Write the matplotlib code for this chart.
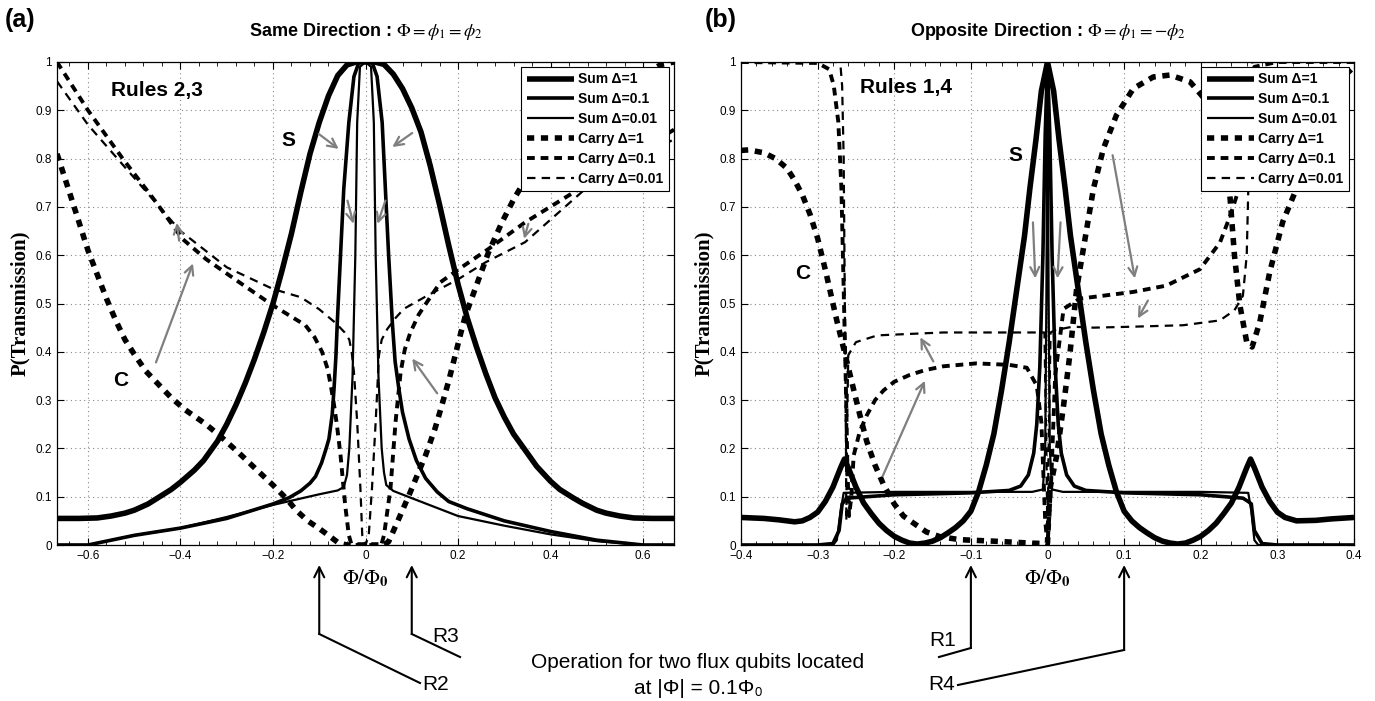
import numpy as np
import matplotlib
matplotlib.use("Agg")
import matplotlib.pyplot as plt
from matplotlib import transforms

plt.rcParams['font.family'] = ['Liberation Sans', 'DejaVu Sans']
plt.rcParams['mathtext.fontset'] = 'stix'

##############################################################################
# Panel (a) : same direction
##############################################################################

a_sum1_x = [-0.667, -0.62, -0.58, -0.55, -0.52, -0.5, -0.47, -0.45, -0.42, -0.4, -0.37, -0.35,
            -0.32, -0.3, -0.28, -0.26, -0.24, -0.22, -0.2, -0.18, -0.16, -0.14, -0.12, -0.1,
            -0.08, -0.06, -0.04, -0.02, 0, 0.02, 0.04, 0.06, 0.08, 0.1, 0.12, 0.14, 0.16, 0.18,
            0.2, 0.22, 0.24, 0.26, 0.28, 0.3, 0.32, 0.35, 0.37, 0.4, 0.42, 0.45, 0.47, 0.5, 0.52,
            0.55, 0.58, 0.62, 0.667]
a_sum1_y = [0.055, 0.055, 0.056, 0.06, 0.066, 0.072, 0.085, 0.097, 0.115, 0.13, 0.155, 0.175,
            0.215, 0.25, 0.29, 0.335, 0.385, 0.44, 0.5, 0.57, 0.645, 0.73, 0.81, 0.875,
            0.93, 0.972, 0.994, 1.0, 1.0, 1.0, 0.995, 0.975, 0.945, 0.905, 0.855, 0.785, 0.705, 0.62,
            0.54, 0.47, 0.41, 0.355, 0.305, 0.265, 0.23, 0.19, 0.163, 0.132, 0.115, 0.097, 0.086,
            0.072, 0.066, 0.06, 0.056, 0.055, 0.055]

a_sum2_x = [-0.667, -0.6, -0.5, -0.4, -0.3, -0.25, -0.2, -0.165, -0.14, -0.12, -0.108, -0.095,
            -0.085, -0.079, -0.072, -0.068, -0.064, -0.061, -0.054, -0.047, -0.036, -0.025,
            -0.014, 0, 0.014, 0.025, 0.036, 0.043, 0.05, 0.058, 0.064, 0.072, 0.08, 0.094, 0.11,
            0.13, 0.155, 0.18, 0.22, 0.3, 0.4, 0.5, 0.6, 0.667]
a_sum2_y = [0, 0, 0.02, 0.035, 0.055, 0.07, 0.085, 0.098, 0.112, 0.128, 0.142, 0.17,
            0.2, 0.22, 0.27, 0.324, 0.39, 0.461, 0.6, 0.737, 0.875, 0.97,
            1.0, 1.0, 1.0, 0.97, 0.875, 0.737, 0.6, 0.461, 0.38, 0.324, 0.275, 0.22, 0.175,
            0.138, 0.11, 0.09, 0.075, 0.05, 0.028, 0.01, 0, 0]

a_sum3_x = [-0.667, -0.6, -0.5, -0.4, -0.3, -0.2, -0.1, -0.06, -0.047, -0.04, -0.035, -0.028,
            -0.022, -0.018, -0.012, 0, 0.012, 0.018, 0.022, 0.028, 0.035, 0.04, 0.045, 0.06, 0.1,
            0.2, 0.3, 0.4, 0.5, 0.6, 0.667]
a_sum3_y = [0, 0, 0.02, 0.035, 0.058, 0.083, 0.105, 0.113, 0.12, 0.145, 0.2, 0.35,
            0.6, 0.875, 0.99, 1.0, 0.99, 0.875, 0.6, 0.35, 0.2, 0.15, 0.124, 0.112, 0.097,
            0.06, 0.04, 0.022, 0.008, 0, 0]

a_car1_x = [-0.667, -0.64, -0.62, -0.6, -0.58, -0.56, -0.54, -0.52, -0.5, -0.475, -0.45, -0.42,
            -0.39, -0.345, -0.31, -0.273, -0.24, -0.2, -0.17, -0.15, -0.125, -0.1, -0.08, -0.058,
            -0.04, 0, 0.04, 0.05, 0.07, 0.094, 0.11, 0.13, 0.15, 0.165, 0.18, 0.194, 0.205,
            0.216, 0.237, 0.266, 0.295, 0.32, 0.338, 0.4, 0.45, 0.5, 0.55, 0.6, 0.64, 0.667]
a_car1_y = [0.81, 0.73, 0.67, 0.61, 0.56, 0.51, 0.465, 0.425, 0.395, 0.36, 0.335, 0.305,
            0.28, 0.25, 0.222, 0.19, 0.16, 0.124, 0.095, 0.072, 0.05, 0.034, 0.02, 0.004,
            0, 0, 0, 0.007, 0.05, 0.103, 0.14, 0.186, 0.24, 0.289, 0.34, 0.393, 0.435,
            0.475, 0.53, 0.606, 0.668, 0.715, 0.744, 0.83, 0.88, 0.92, 0.95, 0.975, 0.995, 1.0]

a_car2_x = [-0.667, -0.6, -0.525, -0.453, -0.396, -0.345, -0.273, -0.2, -0.13, -0.11, -0.094,
            -0.082, -0.075, -0.068, -0.062, -0.054, -0.044, -0.036, -0.03, 0, 0.034, 0.04, 0.054,
            0.065, 0.076, 0.085, 0.097, 0.115, 0.133, 0.162, 0.2, 0.266, 0.345, 0.45, 0.55, 0.667]
a_car2_y = [1.0, 0.9, 0.8, 0.71, 0.634, 0.592, 0.544, 0.496, 0.455, 0.43, 0.40,
            0.365, 0.33, 0.29, 0.25, 0.186, 0.083, 0.02, 0, 0, 0, 0.02, 0.117,
            0.255, 0.358, 0.405, 0.44, 0.477, 0.503, 0.544, 0.57, 0.613, 0.668, 0.73, 0.79, 0.86]

a_car3_x = [-0.667, -0.6, -0.5, -0.4, -0.3, -0.2, -0.14, -0.1, -0.065, -0.045, -0.035, -0.03,
            -0.025, -0.018, -0.011, -0.007, 0, 0.007, 0.014, 0.022, 0.029, 0.035, 0.047, 0.065,
            0.083, 0.133, 0.2, 0.259, 0.345, 0.475, 0.55, 0.667]
a_car3_y = [0.96, 0.87, 0.76, 0.65, 0.575, 0.53, 0.513, 0.488, 0.46, 0.44, 0.425, 0.4,
            0.358, 0.255, 0.117, 0.02, 0, 0.02, 0.117, 0.255, 0.392, 0.425, 0.447, 0.47,
            0.489, 0.516, 0.55, 0.585, 0.627, 0.737, 0.78, 0.84]

##############################################################################
# Panel (b) : opposite direction
##############################################################################

b_sum1_x = [-0.4, -0.37, -0.35, -0.33, -0.32, -0.31, -0.3, -0.29, -0.28, -0.27, -0.265, -0.26,
            -0.255, -0.25, -0.24, -0.23, -0.22, -0.21, -0.2, -0.19, -0.18, -0.17, -0.16, -0.15,
            -0.14, -0.13, -0.12, -0.11, -0.1, -0.09, -0.08, -0.07, -0.06, -0.05, -0.04, -0.03,
            -0.023, -0.015, -0.008, 0, 0.008, 0.015, 0.023, 0.03, 0.04, 0.05, 0.06, 0.07, 0.08,
            0.09, 0.1, 0.11, 0.12, 0.13, 0.14, 0.15, 0.16, 0.17, 0.18, 0.19, 0.2, 0.21, 0.22,
            0.23, 0.24, 0.25, 0.255, 0.26, 0.265, 0.27, 0.28, 0.29, 0.3, 0.31, 0.325, 0.35,
            0.37, 0.4]
b_sum1_y = [0.057, 0.055, 0.052, 0.048, 0.05, 0.057, 0.068, 0.09, 0.12, 0.16, 0.178, 0.16,
            0.14, 0.12, 0.087, 0.065, 0.045, 0.03, 0.018, 0.01, 0.004, 0.002, 0.004, 0.008,
            0.015, 0.025, 0.036, 0.05, 0.07, 0.11, 0.165, 0.23, 0.32, 0.42, 0.53, 0.64,
            0.738, 0.84, 0.94, 1.0, 0.94, 0.84, 0.738, 0.64, 0.53, 0.42, 0.32, 0.23, 0.165,
            0.11, 0.07, 0.05, 0.036, 0.025, 0.015, 0.008, 0.004, 0.002, 0.004, 0.01, 0.018,
            0.03, 0.045, 0.065, 0.087, 0.12, 0.14, 0.16, 0.178, 0.16, 0.12, 0.09, 0.068, 0.057,
            0.05, 0.051, 0.054, 0.057]

b_sum2_x = [-0.4, -0.3, -0.28, -0.272, -0.268, -0.262, -0.2, -0.1, -0.05, -0.035, -0.025,
            -0.018, -0.014, -0.01, -0.006, -0.003, 0, 0.003, 0.006, 0.01, 0.014, 0.018, 0.025,
            0.035, 0.05, 0.1, 0.2, 0.255, 0.262, 0.266, 0.27, 0.28, 0.3, 0.4]
b_sum2_y = [0, 0, 0.003, 0.03, 0.085, 0.097, 0.104, 0.108, 0.113, 0.122, 0.145,
            0.19, 0.25, 0.37, 0.6, 0.85, 1.0, 0.85, 0.6, 0.37, 0.25, 0.19, 0.145,
            0.122, 0.113, 0.108, 0.104, 0.097, 0.09, 0.085, 0.03, 0.003, 0, 0]

b_sum3_x = [-0.4, -0.28, -0.275, -0.27, -0.266, -0.2, -0.1, -0.02, -0.006, -0.003, -0.0015, 0,
            0.0015, 0.003, 0.006, 0.02, 0.1, 0.2, 0.262, 0.266, 0.27, 0.275, 0.28, 0.4]
b_sum3_y = [0, 0, 0.01, 0.07, 0.108, 0.11, 0.11, 0.11, 0.115, 0.2, 0.5, 1.0,
            0.5, 0.2, 0.115, 0.11, 0.11, 0.11, 0.108, 0.07, 0.01, 0, 0, 0]

b_car1_x = [-0.4, -0.39, -0.37, -0.355, -0.34, -0.33, -0.32, -0.31, -0.3, -0.29, -0.28, -0.275,
            -0.265, -0.255, -0.245, -0.236, -0.225, -0.214, -0.2, -0.188, -0.17, -0.158, -0.14,
            -0.114, -0.071, -0.023, -0.005, 0, 0.003, 0.012, 0.021, 0.029, 0.038, 0.049, 0.06,
            0.073, 0.09, 0.112, 0.138, 0.16, 0.186, 0.208, 0.225, 0.238, 0.244, 0.251, 0.26,
            0.267, 0.277, 0.29, 0.307, 0.325, 0.345, 0.36, 0.38, 0.4]
b_car1_y = [0.817, 0.818, 0.812, 0.8, 0.78, 0.755, 0.725, 0.685, 0.635, 0.57, 0.5, 0.465,
            0.4, 0.335, 0.27, 0.215, 0.165, 0.125, 0.085, 0.06, 0.04, 0.027, 0.017,
            0.011, 0.008, 0.004, 0.003, 0.004, 0.115, 0.185, 0.289, 0.392, 0.53, 0.634, 0.738,
            0.821, 0.89, 0.945, 0.969, 0.973, 0.959, 0.918, 0.84, 0.724, 0.6, 0.497, 0.42,
            0.41, 0.461, 0.565, 0.669, 0.738, 0.83, 0.9, 0.96, 0.99]

b_car2_x = [-0.4, -0.3, -0.285, -0.279, -0.273, -0.269, -0.267, -0.265, -0.263, -0.261, -0.259,
            -0.256, -0.253, -0.245, -0.236, -0.225, -0.214, -0.2, -0.18, -0.16, -0.136, -0.093,
            -0.05, -0.027, -0.014, -0.008, -0.003, 0, 0.004, 0.01, 0.021, 0.042, 0.112, 0.155,
            0.199, 0.225, 0.238, 0.25, 0.258, 0.265, 0.27, 0.3, 0.4]
b_car2_y = [1.0, 0.998, 0.985, 0.952, 0.876, 0.74, 0.6, 0.46, 0.32, 0.15, 0.06,
            0.1, 0.185, 0.235, 0.268, 0.3, 0.32, 0.338, 0.352, 0.362, 0.37, 0.376,
            0.373, 0.367, 0.33, 0.254, 0.05, 0, 0.1, 0.35, 0.489, 0.51, 0.524, 0.537,
            0.571, 0.626, 0.68, 0.738, 0.85, 0.95, 0.99, 1.0, 1.0]

b_car3_x = [-0.4, -0.275, -0.27, -0.268, -0.266, -0.265, -0.264, -0.263, -0.2625, -0.262, -0.26,
            -0.25, -0.222, -0.18, -0.136, -0.05, -0.01, -0.004, -0.0015, 0, 0.0015, 0.004, 0.01,
            0.033, 0.06, 0.112, 0.177, 0.225, 0.244, 0.255, 0.26, 0.263, 0.265, 0.267, 0.3, 0.4]
b_car3_y = [1.0, 1.0, 0.99, 0.95, 0.8, 0.6, 0.4, 0.2, 0.05, 0.2, 0.393,
            0.42, 0.434, 0.437, 0.44, 0.44, 0.44, 0.44, 0.2, 0, 0.2, 0.44, 0.445,
            0.452, 0.45, 0.452, 0.455, 0.465, 0.486, 0.516, 0.6, 0.8, 0.95, 1.0, 1.0, 1.0]

labels = ["Sum \u0394=1", "Sum \u0394=0.1", "Sum \u0394=0.01",
          "Carry \u0394=1", "Carry \u0394=0.1", "Carry \u0394=0.01"]

styles = [dict(lw=4.0, ls='-'),
          dict(lw=2.6, ls='-'),
          dict(lw=1.6, ls='-'),
          dict(lw=4.0, ls=(0, (1.3, 1.2))),
          dict(lw=2.8, ls=(0, (2.0, 1.5))),
          dict(lw=1.6, ls=(0, (3.8, 2.8)))]

a_series = [(a_sum1_x, a_sum1_y), (a_sum2_x, a_sum2_y), (a_sum3_x, a_sum3_y),
            (a_car1_x, a_car1_y), (a_car2_x, a_car2_y), (a_car3_x, a_car3_y)]
b_series = [(b_sum1_x, b_sum1_y), (b_sum2_x, b_sum2_y), (b_sum3_x, b_sum3_y),
            (b_car1_x, b_car1_y), (b_car2_x, b_car2_y), (b_car3_x, b_car3_y)]

##############################################################################
# Figure
##############################################################################

W, H = 1375, 701
fig = plt.figure(figsize=(W / 100, H / 100), dpi=100)
ax1 = fig.add_axes([57 / W, 1 - 545 / H, 617 / W, 483 / H])
ax2 = fig.add_axes([741 / W, 1 - 545 / H, 613 / W, 483 / H])

gray = '#7f7f7f'


def setup(ax, series, xlim, major, minor):
    for (x, y), lab, st in zip(series, labels, styles):
        ax.plot(x, y, color='black', label=lab, solid_capstyle='butt',
                dash_capstyle='butt', solid_joinstyle='round', **st)
    ax.set_xlim(*xlim)
    ax.set_ylim(0, 1)
    ax.set_xticks(major)
    ax.set_xticks(minor, minor=True)
    ax.set_yticks(np.arange(0, 1.01, 0.1))
    ax.set_yticklabels(['0', '0.1', '0.2', '0.3', '0.4', '0.5', '0.6', '0.7', '0.8', '0.9', '1'])
    ax.grid(True, which='major', ls=(0, (1, 3)), color='#888888', lw=0.8)
    ax.tick_params(direction='in', top=True, right=True, labelsize=8.5, length=5, width=0.8)
    ax.tick_params(which='minor', direction='in', top=True, length=3, width=0.6)
    for s in ax.spines.values():
        s.set_linewidth(0.9)
    ax.set_ylabel('P(Transmission)', family='Liberation Serif', fontweight='bold',
                  fontsize=15, labelpad=4)
    ax.set_xlabel(r'$\Phi/\Phi_\mathbf{0}$', fontsize=15, labelpad=4)
    leg = ax.legend(loc='upper right', handlelength=3.4, handletextpad=0.3,
                    labelspacing=0.42, borderpad=0.4, borderaxespad=0.35,
                    fancybox=False, edgecolor='black', framealpha=1,
                    prop=dict(weight='bold', size=10))
    leg.get_frame().set_linewidth(0.8)


def garrow(ax, tail, tip):
    ax.annotate('', xy=tip, xytext=tail,
                arrowprops=dict(arrowstyle='->', color=gray, lw=1.6, mutation_scale=16,
                                shrinkA=0, shrinkB=0))


setup(ax1, a_series, (-0.667, 0.667),
      [-0.6, -0.4, -0.2, 0, 0.2, 0.4, 0.6], np.arange(-0.64, 0.66, 0.04))
setup(ax2, b_series, (-0.4, 0.4),
      [-0.4, -0.3, -0.2, -0.1, 0, 0.1, 0.2, 0.3, 0.4], np.arange(-0.4, 0.401, 0.02))
ax1.set_xticklabels(['\u22120.6', '\u22120.4', '\u22120.2', '0', '0.2', '0.4', '0.6'])
ax2.set_xticklabels(['\u22120.4', '\u22120.3', '\u22120.2', '\u22120.1', '0', '0.1', '0.2',
                     '0.3', '0.4'])

# panel (a) annotations
ax1.text(-0.55, 0.94, 'Rules 2,3', fontsize=15, fontweight='bold', va='center')
ax1.text(-0.166, 0.837, 'S', fontsize=15, fontweight='bold', ha='center', va='center')
ax1.text(-0.529, 0.341, 'C', fontsize=15, fontweight='bold', ha='center', va='center')
garrow(ax1, (-0.101, 0.851), (-0.058, 0.820))
garrow(ax1, (0.101, 0.853), (0.058, 0.824))
garrow(ax1, (-0.039, 0.713), (-0.026, 0.665))
garrow(ax1, (0.043, 0.713), (0.026, 0.665))
garrow(ax1, (-0.453, 0.378), (-0.373, 0.583))
garrow(ax1, (-0.403, 0.630), (-0.408, 0.667))
garrow(ax1, (0.155, 0.314), (0.101, 0.386))
garrow(ax1, (0.352, 0.665), (0.343, 0.634))

# panel (b) annotations
ax2.text(-0.245, 0.948, 'Rules 1,4', fontsize=15, fontweight='bold', va='center')
ax2.text(-0.042, 0.807, 'S', fontsize=15, fontweight='bold', ha='center', va='center')
ax2.text(-0.32, 0.562, 'C', fontsize=15, fontweight='bold', ha='center', va='center')
garrow(ax2, (-0.215, 0.143), (-0.160, 0.340))
garrow(ax2, (-0.149, 0.380), (-0.166, 0.430))
garrow(ax2, (-0.019, 0.668), (-0.016, 0.552))
garrow(ax2, (0.017, 0.668), (0.013, 0.552))
garrow(ax2, (0.085, 0.807), (0.114, 0.552))
garrow(ax2, (0.131, 0.506), (0.118, 0.469))

# titles
ax1.set_title(r'Same Direction : $\Phi = \phi_1 = \phi_2$', fontsize=13, fontweight='bold', pad=19)
ax2.set_title(r'Opposite Direction : $\Phi = \phi_1 = -\phi_2$', fontsize=13, fontweight='bold', pad=19)
fig.text(5 / W, 1 - 20 / H, '(a)', fontsize=18, fontweight='bold', va='center')
fig.text(705 / W, 1 - 20 / H, '(b)', fontsize=18, fontweight='bold', va='center')


# region pointers below the axes (x in data, y in figure pixels from top)
def pointer(ax, x0, corner_y, end_px, end_y, name, name_px, name_y, name_ha):
    tr = transforms.blended_transform_factory(ax.transData, fig.transFigure)
    tip = (x0, 1 - 565 / H)
    corner = (x0, 1 - corner_y / H)
    ax.annotate('', xy=tip, xytext=corner, xycoords=tr, textcoords=tr,
                arrowprops=dict(arrowstyle='->', color='black', lw=1.5, mutation_scale=18,
                                shrinkA=0, shrinkB=0), annotation_clip=False)
    xc = ax.transData.transform((x0, 0))[0]
    fig.add_artist(plt.Line2D([xc / W, end_px / W], [1 - corner_y / H, 1 - end_y / H],
                              color='black', lw=1.5, transform=fig.transFigure))
    fig.text(name_px / W, 1 - name_y / H, name, fontsize=15, ha=name_ha, va='center')


pointer(ax1, -0.1, 634, 420, 683, 'R2', 422, 684, 'left')
pointer(ax1, 0.1, 634, 460, 657, 'R3', 432, 637, 'left')
pointer(ax2, -0.1, 648, 939, 657, 'R1', 943, 640, 'center')
pointer(ax2, 0.1, 650, 958, 685, 'R4', 955, 685, 'right')

fig.text(698 / W, 1 - 662 / H, 'Operation for two flux qubits located', fontsize=15,
         ha='center', va='center')
fig.text(698 / W, 1 - 688 / H, 'at |\u03a6| = 0.1\u03a6\u2080', fontsize=15,
         ha='center', va='center')

fig.savefig('out.png', dpi=100)
